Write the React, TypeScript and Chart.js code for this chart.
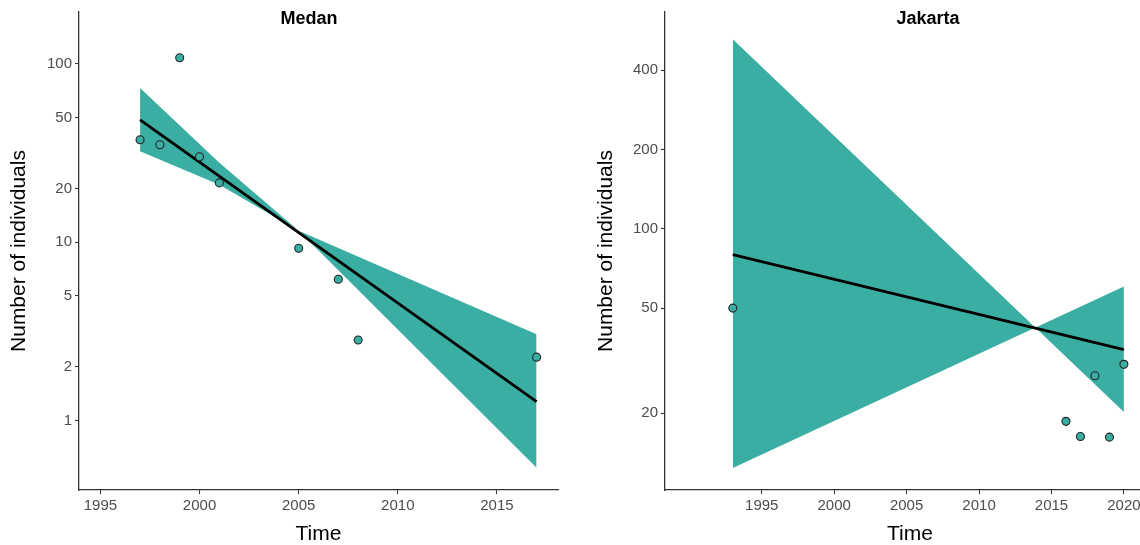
import React, { useEffect, useRef } from 'react';
import { Chart, registerables } from 'chart.js';

Chart.register(...registerables);

const FAMILY = '"Liberation Sans", Arial, Helvetica, sans-serif';
const TEAL = '#3BAEA3';
const TICK_GREY = '#4D4D4D';
const AXIS_DARK = '#333333';

// ---------- Medan ----------
const medanYears = [1997, 1998, 1999, 2000, 2001, 2005, 2007, 2008, 2017];
const medanCounts = [37.5, 35.2, 108, 30.1, 21.5, 9.25, 6.2, 2.83, 2.27];
const medanFitYears = [1997, 2017];
const medanFit = [48.5, 1.28];
const medanBandYears = [1997, 2001, 2005, 2017];
const medanBandA = [73.1, 27.9, 11.6, 3.05];
const medanBandB = [32.3, 21.0, 11.6, 0.545];
const medanYTicks = [1, 2, 5, 10, 20, 50, 100];
const medanXTicks = [1995, 2000, 2005, 2010, 2015];

// ---------- Jakarta ----------
const jakartaYears = [1993, 2016, 2017, 2018, 2019, 2020];
const jakartaCounts = [50, 18.6, 16.3, 27.7, 16.2, 30.6];
const jakartaFitYears = [1993, 2020];
const jakartaFit = [79.7, 34.8];
const jakartaBandYears = [1993, 2020];
const jakartaBandA = [523, 20.2];
const jakartaBandB = [12.37, 60.4];
const jakartaYTicks = [20, 50, 100, 200, 400];
const jakartaXTicks = [1995, 2000, 2005, 2010, 2015, 2020];

const panelTitle = {
  id: 'panelTitle',
  afterDraw(chart: any, _args: any, opts: any) {
    const ctx = chart.ctx;
    ctx.save();
    ctx.font = `bold 18px ${FAMILY}`;
    ctx.fillStyle = '#000';
    ctx.textAlign = 'center';
    ctx.textBaseline = 'middle';
    ctx.fillText(opts.text, opts.x, opts.y);
    ctx.restore();
  },
};

const zip = (xs: number[], ys: number[]) => xs.map((x, i) => ({ x, y: ys[i] }));

function makeConfig(p: any) {
  return {
    type: 'line',
    data: {
      datasets: [
        {
          label: 'observed',
          data: zip(p.years, p.counts),
          showLine: false,
          pointRadius: 4,
          pointBackgroundColor: TEAL,
          pointBorderColor: '#222',
          pointBorderWidth: 1.1,
          borderColor: 'rgba(0,0,0,0)',
          backgroundColor: TEAL,
        },
        {
          label: 'fit',
          data: zip(p.fitYears, p.fit),
          borderColor: '#000',
          borderWidth: 2.8,
          pointRadius: 0,
          fill: false,
        },
        {
          label: 'bandA',
          data: zip(p.bandYears, p.bandA),
          borderColor: 'rgba(0,0,0,0)',
          borderWidth: 0,
          pointRadius: 0,
          backgroundColor: TEAL,
          fill: { target: '+1', above: TEAL, below: TEAL },
        },
        {
          label: 'bandB',
          data: zip(p.bandYears, p.bandB),
          borderColor: 'rgba(0,0,0,0)',
          borderWidth: 0,
          pointRadius: 0,
          fill: false,
        },
      ],
    },
    options: {
      responsive: false,
      animation: false,
      devicePixelRatio: 1,
      layout: { padding: p.padding },
      plugins: {
        legend: { display: false },
        tooltip: { enabled: false },
        panelTitle: { text: p.title, x: p.titleX, y: 19 },
      },
      scales: {
        x: {
          type: 'linear',
          min: p.xMin,
          max: p.xMax,
          afterBuildTicks: (s: any) => {
            s.ticks = p.xTicks.map((v: number) => ({ value: v }));
          },
          afterFit: (s: any) => {
            s.height = 55;
            s.paddingLeft = 0;
            s.paddingRight = 0;
          },
          ticks: {
            callback: (v: any) => String(v),
            color: TICK_GREY,
            font: { size: 15, family: FAMILY },
            padding: 3,
            maxRotation: 0,
            autoSkip: false,
          },
          grid: { drawOnChartArea: false, tickLength: 4, tickColor: AXIS_DARK, tickWidth: 1.1 },
          border: { display: true, color: AXIS_DARK, width: 1.3 },
          title: {
            display: true,
            text: 'Time',
            color: '#000',
            font: { size: 21, family: FAMILY, lineHeight: 1 },
            padding: { top: 0, bottom: 0 },
          },
        },
        y: {
          type: 'logarithmic',
          min: p.yMin,
          max: p.yMax,
          afterBuildTicks: (s: any) => {
            s.ticks = p.yTicks.map((v: number) => ({ value: v }));
          },
          afterFit: (s: any) => {
            s.width = p.yWidth;
          },
          ticks: {
            callback: (v: any) => String(v),
            color: TICK_GREY,
            font: { size: 15, family: FAMILY },
            padding: 3,
            autoSkip: false,
          },
          grid: { drawOnChartArea: false, tickLength: 4, tickColor: AXIS_DARK, tickWidth: 1.1 },
          border: { display: true, color: AXIS_DARK, width: 1.3 },
          title: {
            display: true,
            text: 'Number of individuals',
            color: '#000',
            font: { size: 21, family: FAMILY, lineHeight: 1.2 },
            padding: { top: 6.5, bottom: 0 },
          },
        },
      },
    },
    plugins: [panelTitle],
  };
}

function Panel(props: { cfg: any; left: number; width: number }) {
  const ref = useRef<HTMLCanvasElement>(null);
  useEffect(() => {
    if (!ref.current) return;
    const chart = new Chart(ref.current, props.cfg);
    return () => chart.destroy();
  }, []);
  return (
    <div style={{ position: 'absolute', left: props.left, top: 0, width: props.width, height: 545 }}>
      <canvas ref={ref} width={props.width} height={545} style={{ display: 'block' }} />
    </div>
  );
}

export default function App() {
  const medanCfg = makeConfig({
    title: 'Medan',
    titleX: 309,
    years: medanYears,
    counts: medanCounts,
    fitYears: medanFitYears,
    fit: medanFit,
    bandYears: medanBandYears,
    bandA: medanBandA,
    bandB: medanBandB,
    xTicks: medanXTicks,
    yTicks: medanYTicks,
    xMin: 1993.92,
    xMax: 2018.08,
    yMin: 0.409,
    yMax: 195,
    yWidth: 79,
    padding: { top: 12, right: 12, bottom: 0, left: 0 },
  });
  const jakartaCfg = makeConfig({
    title: 'Jakarta',
    titleX: 928 - 587,
    years: jakartaYears,
    counts: jakartaCounts,
    fitYears: jakartaFitYears,
    fit: jakartaFit,
    bandYears: jakartaBandYears,
    bandA: jakartaBandA,
    bandB: jakartaBandB,
    xTicks: jakartaXTicks,
    yTicks: jakartaYTicks,
    xMin: 1988.32,
    xMax: 2022.14,
    yMin: 10.21,
    yMax: 664,
    yWidth: 78,
    padding: { top: 12, right: 0, bottom: 0, left: 0 },
  });
  return (
    <div
      style={{
        position: 'fixed',
        left: 0,
        top: 0,
        width: 1140,
        height: 545,
        overflow: 'hidden',
        background: '#fff',
      }}
    >
      <Panel cfg={medanCfg} left={0} width={570} />
      <Panel cfg={jakartaCfg} left={587} width={573} />
    </div>
  );
}
